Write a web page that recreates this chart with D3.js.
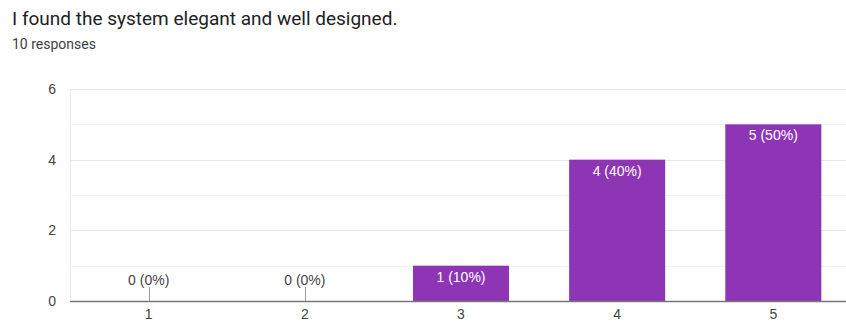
<!DOCTYPE html>
<html>
<head>
<meta charset="utf-8">
<script src="https://cdn.jsdelivr.net/npm/d3@7"></script>
<style>
  body { margin: 0; background: #fff; }
  svg { display: block; font-family: "Liberation Sans", Arial, sans-serif; }
</style>
</head>
<body>
<svg width="846" height="323"></svg>
<script>
var svg = d3.select("svg"),
    width = +svg.attr("width"),
    height = +svg.attr("height");

var categories = ["1", "2", "3", "4", "5"];
var counts = [0, 0, 1, 4, 5];
var percents = [0, 0, 10, 40, 50];
var yTicks = [0, 2, 4, 6];
var total = 10;

var barColor = "#8e35b5";

// title + subtitle
svg.append("text")
    .attr("x", 12).attr("y", 25)
    .style("font-family", "Roboto, sans-serif")
    .style("font-size", "19px")
    .style("fill", "#202124")
    .text("I found the system elegant and well designed.");

svg.append("text")
    .attr("x", 12).attr("y", 49)
    .style("font-family", "Roboto, sans-serif")
    .style("font-size", "14px")
    .style("fill", "#3c4043")
    .text(total + " responses");

var x = d3.scaleBand()
    .domain(categories)
    .range([71, 851])
    .paddingInner(0.385)
    .paddingOuter(0.19);

var y = d3.scaleLinear()
    .domain([0, 6])
    .range([301, 89]);

var data = categories.map(function(c, i) {
    return {cat: c, n: counts[i], pct: percents[i]};
});

// gridlines (major + minor)
svg.append("g")
    .selectAll("line")
    .data(d3.range(1, 7))
    .enter().append("line")
    .attr("x1", 70).attr("x2", width)
    .attr("y1", function(d) { return Math.round(y(d)) + 0.5; })
    .attr("y2", function(d) { return Math.round(y(d)) + 0.5; })
    .style("stroke", function(d) { return d % 2 == 0 ? "#e8e8e8" : "#f2f2f2"; })
    .style("stroke-width", 1);

// left border of plot
svg.append("line")
    .attr("x1", 70.5).attr("x2", 70.5)
    .attr("y1", y(6)).attr("y2", y(0))
    .style("stroke", "#eeeeee");

// y labels
svg.append("g")
    .selectAll("text")
    .data(yTicks)
    .enter().append("text")
    .attr("x", 56)
    .attr("y", function(d) { return y(d) + 5; })
    .attr("text-anchor", "end")
    .style("font-size", "14px")
    .style("fill", "#444")
    .text(function(d) { return d; });

// bars
svg.append("g")
    .selectAll("rect")
    .data(data.filter(function(d) { return d.n > 0; }))
    .enter().append("rect")
    .attr("x", function(d) { return x(d.cat); })
    .attr("width", x.bandwidth())
    .attr("y", function(d) { return y(d.n); })
    .attr("height", function(d) { return y(0) - y(d.n); })
    .style("fill", barColor);

// labels inside bars
svg.append("g")
    .selectAll("text")
    .data(data.filter(function(d) { return d.n > 0; }))
    .enter().append("text")
    .attr("x", function(d) { return x(d.cat) + x.bandwidth() / 2; })
    .attr("y", function(d) { return y(d.n) + 16; })
    .attr("text-anchor", "middle")
    .style("font-size", "14px")
    .style("fill", "#fff")
    .text(function(d) { return d.n + " (" + d.pct + "%)"; });

// zero-value labels with small stems
var zeros = data.filter(function(d) { return d.n == 0; });
svg.append("g")
    .selectAll("line")
    .data(zeros)
    .enter().append("line")
    .attr("x1", function(d) { return Math.round(x(d.cat) + x.bandwidth() / 2) + 0.5; })
    .attr("x2", function(d) { return Math.round(x(d.cat) + x.bandwidth() / 2) + 0.5; })
    .attr("y1", y(0) - 14).attr("y2", y(0))
    .style("stroke", "#999");

svg.append("g")
    .selectAll("text")
    .data(zeros)
    .enter().append("text")
    .attr("x", function(d) { return x(d.cat) + x.bandwidth() / 2; })
    .attr("y", y(0) - 16)
    .attr("text-anchor", "middle")
    .style("font-size", "14px")
    .style("fill", "#444")
    .text(function(d) { return d.n + " (" + d.pct + "%)"; });

// baseline
svg.append("line")
    .attr("x1", 70).attr("x2", width)
    .attr("y1", y(0) + 0.5).attr("y2", y(0) + 0.5)
    .style("stroke", "#777")
    .style("stroke-width", 1.5);

// x labels
svg.append("g")
    .selectAll("text")
    .data(categories)
    .enter().append("text")
    .attr("x", function(d) { return x(d) + x.bandwidth() / 2; })
    .attr("y", 319)
    .attr("text-anchor", "middle")
    .style("font-size", "14px")
    .style("fill", "#444")
    .text(function(d) { return d; });
</script>
</body>
</html>
